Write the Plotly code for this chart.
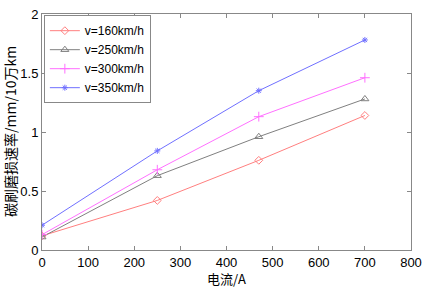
import plotly.graph_objects as go

current = [0, 250, 470, 700]
series_names = ["v=160km/h", "v=250km/h", "v=300km/h", "v=350km/h"]
v160 = [0.12, 0.42, 0.76, 1.14]
v250 = [0.11, 0.63, 0.96, 1.28]
v300 = [0.13, 0.68, 1.13, 1.46]
v350 = [0.21, 0.84, 1.35, 1.78]
x_ticks = [0, 100, 200, 300, 400, 500, 600, 700, 800]
y_ticks = [0, 0.5, 1, 1.5, 2]
y_tick_text = ["0", "0.5", "1", "1.5", "2"]
x_title = "电流/A"
y_title = "碳刷磨损速率/mm/10万km"

colors = ["#ff7f7f", "#808080", "#ff70ff", "#7070ff"]
symbols = ["diamond-open", "triangle-up-open", "cross-thin-open", "asterisk-open"]
sizes = [6, 7, 7, 5]

fig = go.Figure()
for name, ys, c, s, sz in zip(series_names, [v160, v250, v300, v350], colors, symbols, sizes):
    fig.add_trace(go.Scatter(
        x=current, y=ys, name=name, mode="lines+markers",
        line=dict(color=c, width=1),
        marker=dict(symbol=s, size=sz, color=c, line=dict(color=c, width=1)),
    ))

axis_common = dict(
    showline=True, linecolor="#888888", linewidth=1, mirror="ticks",
    ticks="inside", ticklen=4, tickcolor="#888888", showgrid=False, zeroline=False,
    automargin=False, ticklabeloverflow="allow",
    tickfont=dict(family="Arial, Liberation Sans", size=13, color="black"),
)
fig.update_xaxes(range=[0, 800], tickvals=x_ticks, **axis_common)
fig.update_yaxes(range=[0, 2], tickvals=y_ticks, ticktext=y_tick_text, **axis_common)

fig.add_annotation(text=x_title, xref="paper", yref="paper", x=0.5, y=0,
                   xanchor="center", yanchor="top", yshift=-17, showarrow=False,
                   font=dict(family="Noto Sans CJK SC", size=13, color="black"))
fig.add_annotation(text=y_title, xref="paper", yref="paper", x=0, y=0.5,
                   xanchor="right", yanchor="middle", xshift=-21, textangle=-90,
                   showarrow=False, borderpad=0,
                   font=dict(family="Noto Sans CJK SC", size=14, color="black"))

fig.update_layout(
    width=425, height=287,
    margin=dict(l=42, r=14, t=14, b=37),
    paper_bgcolor="white", plot_bgcolor="white",
    showlegend=True,
    legend=dict(x=0.005, y=0.995, xanchor="left", yanchor="top",
                bgcolor="white", bordercolor="#888888", borderwidth=1,
                font=dict(family="Arial, Liberation Sans", size=12, color="black"),
                tracegroupgap=0, itemwidth=30),
)

fig.write_html(
    "out.html",
    config={"displayModeBar": False},
    post_script="document.body.style.margin='0';document.body.style.overflow='hidden';",
)
